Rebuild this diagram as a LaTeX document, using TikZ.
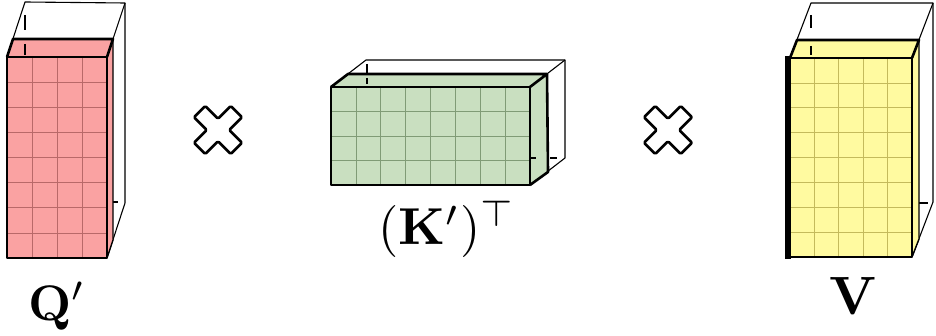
\documentclass[tikz,border=0pt]{standalone}
\usepackage{amsmath}
\definecolor{qfill}{RGB}{250,162,162}
\definecolor{qgrid}{RGB}{185,105,105}
\definecolor{kfill}{RGB}{201,223,192}
\definecolor{kgrid}{RGB}{128,155,118}
\definecolor{vfill}{RGB}{255,250,160}
\definecolor{vgrid}{RGB}{196,186,92}
\begin{document}
\begin{tikzpicture}[x=1pt,y=-1pt,
  outer/.style={line width=1.1pt,line join=round},
  slabline/.style={line width=2.6pt,line join=round},
  sideline/.style={line width=1.4pt,line join=round},
  tick/.style={line width=1.4pt},
  gridq/.style={draw=qgrid,line width=0.7pt},
  gridk/.style={draw=kgrid,line width=0.7pt},
  gridv/.style={draw=vgrid,line width=0.7pt},
  crossline/.style={line width=2.6pt,line join=round,rounded corners=1.2pt},
  lbl/.style={inner sep=0pt,anchor=base}]
\useasboundingbox (0,0) rectangle (936,336);

% ---------------- Q' ----------------
\draw[outer] (7,57) -- (25,2) -- (125,3) -- (125,203) -- (107,258);
\draw[outer] (107,57) -- (125,3);
\draw[tick] (25,15) -- (25,30);
\draw[tick] (107,202) -- (118,202);
\fill[qfill] (7,57) -- (107,57) -- (113,39) -- (13,39) -- cycle;
\fill[qfill] (107,57) -- (113,39) -- (113,240) -- (107,258) -- cycle;
\fill[qfill] (7,57) rectangle (107,258);
\draw[tick] (25,44) -- (25,55);
\foreach \i in {1,2,3} \draw[gridq] ({7+\i*25},57) -- ({7+\i*25},258);
\foreach \j in {1,...,7} \draw[gridq] (7,{57+\j*25.125}) -- (107,{57+\j*25.125});
\draw[sideline] (113,39) -- (113,240) -- (107,258);
\draw[slabline] (107,57) -- (113,39) -- (13,39) -- (7,57);
\draw[slabline] (7,57) rectangle (107,258);
\node[lbl,scale=5.0] (qlabel) at (57,320) {$\mathbf{Q}'$};

% ---------------- cross 1 ----------------
\begin{scope}[shift={(218,130)},rotate=45]
\draw[crossline] (8,26) -- (8,8) -- (26,8) -- (26,-8) -- (8,-8) -- (8,-26) -- (-8,-26) -- (-8,-8) -- (-26,-8) -- (-26,8) -- (-8,8) -- (-8,26) -- cycle;
\end{scope}

% ---------------- K' ----------------
\draw[outer] (331,87) -- (366,60) -- (565,60) -- (565,158) -- (530,185);
\draw[outer] (530,87) -- (565,60);
\draw[tick] (367,64) -- (367,73);
\draw[tick] (550,158) -- (557,158);
\fill[kfill] (331,87) -- (530,87) -- (547,74) -- (348,74) -- cycle;
\fill[kfill] (530,87) -- (547,74) -- (548,172) -- (530,185) -- cycle;
\fill[kfill] (331,87) rectangle (530,185);
\draw[tick] (367,78) -- (367,84);
\draw[tick] (530,158) -- (536,158);
\foreach \i in {1,...,7} \draw[gridk] ({331+\i*24.875},87) -- ({331+\i*24.875},185);
\foreach \j in {1,2,3} \draw[gridk] (331,{87+\j*24.5}) -- (530,{87+\j*24.5});
\draw[slabline] (547,74) -- (548,172) -- (530,185);
\draw[slabline] (530,87) -- (547,74) -- (348,74) -- (331,87);
\draw[slabline] (331,87) rectangle (530,185);
\node[lbl,scale=5.2] (klabel) at (447,245) {$(\mathbf{K}')^{\top}$};

% ---------------- cross 2 ----------------
\begin{scope}[shift={(668,130)},rotate=45]
\draw[crossline] (8,26) -- (8,8) -- (26,8) -- (26,-8) -- (8,-8) -- (8,-26) -- (-8,-26) -- (-8,-8) -- (-26,-8) -- (-26,8) -- (-8,8) -- (-8,26) -- cycle;
\end{scope}

% ---------------- V ----------------
\draw[outer] (790,58) -- (811,3) -- (933,3) -- (933,202) -- (912,257);
\draw[outer] (912,58) -- (933,3);
\draw[tick] (811,15) -- (811,28);
\draw[tick] (912,203) -- (928,203);
\fill[vfill] (790,58) -- (912,58) -- (919,40) -- (797,40) -- cycle;
\fill[vfill] (912,58) -- (919,40) -- (919,239) -- (912,257) -- cycle;
\fill[vfill] (790,58) rectangle (912,257);
\draw[tick] (811,46) -- (811,55);
\foreach \i in {1,...,4} \draw[gridv] ({790+\i*24.4},58) -- ({790+\i*24.4},257);
\foreach \j in {1,...,7} \draw[gridv] (790,{58+\j*24.875}) -- (912,{58+\j*24.875});
\draw[sideline] (919,40) -- (919,239) -- (912,257);
\draw[slabline] (912,58) -- (919,40) -- (797,40) -- (790,58);
\draw[slabline] (790,58) rectangle (912,257);
\draw[line width=6.5pt] (788,56) -- (788,259);
\node[lbl,scale=5.4] (vlabel) at (853,315) {$\mathbf{V}$};
\end{tikzpicture}
\end{document}
